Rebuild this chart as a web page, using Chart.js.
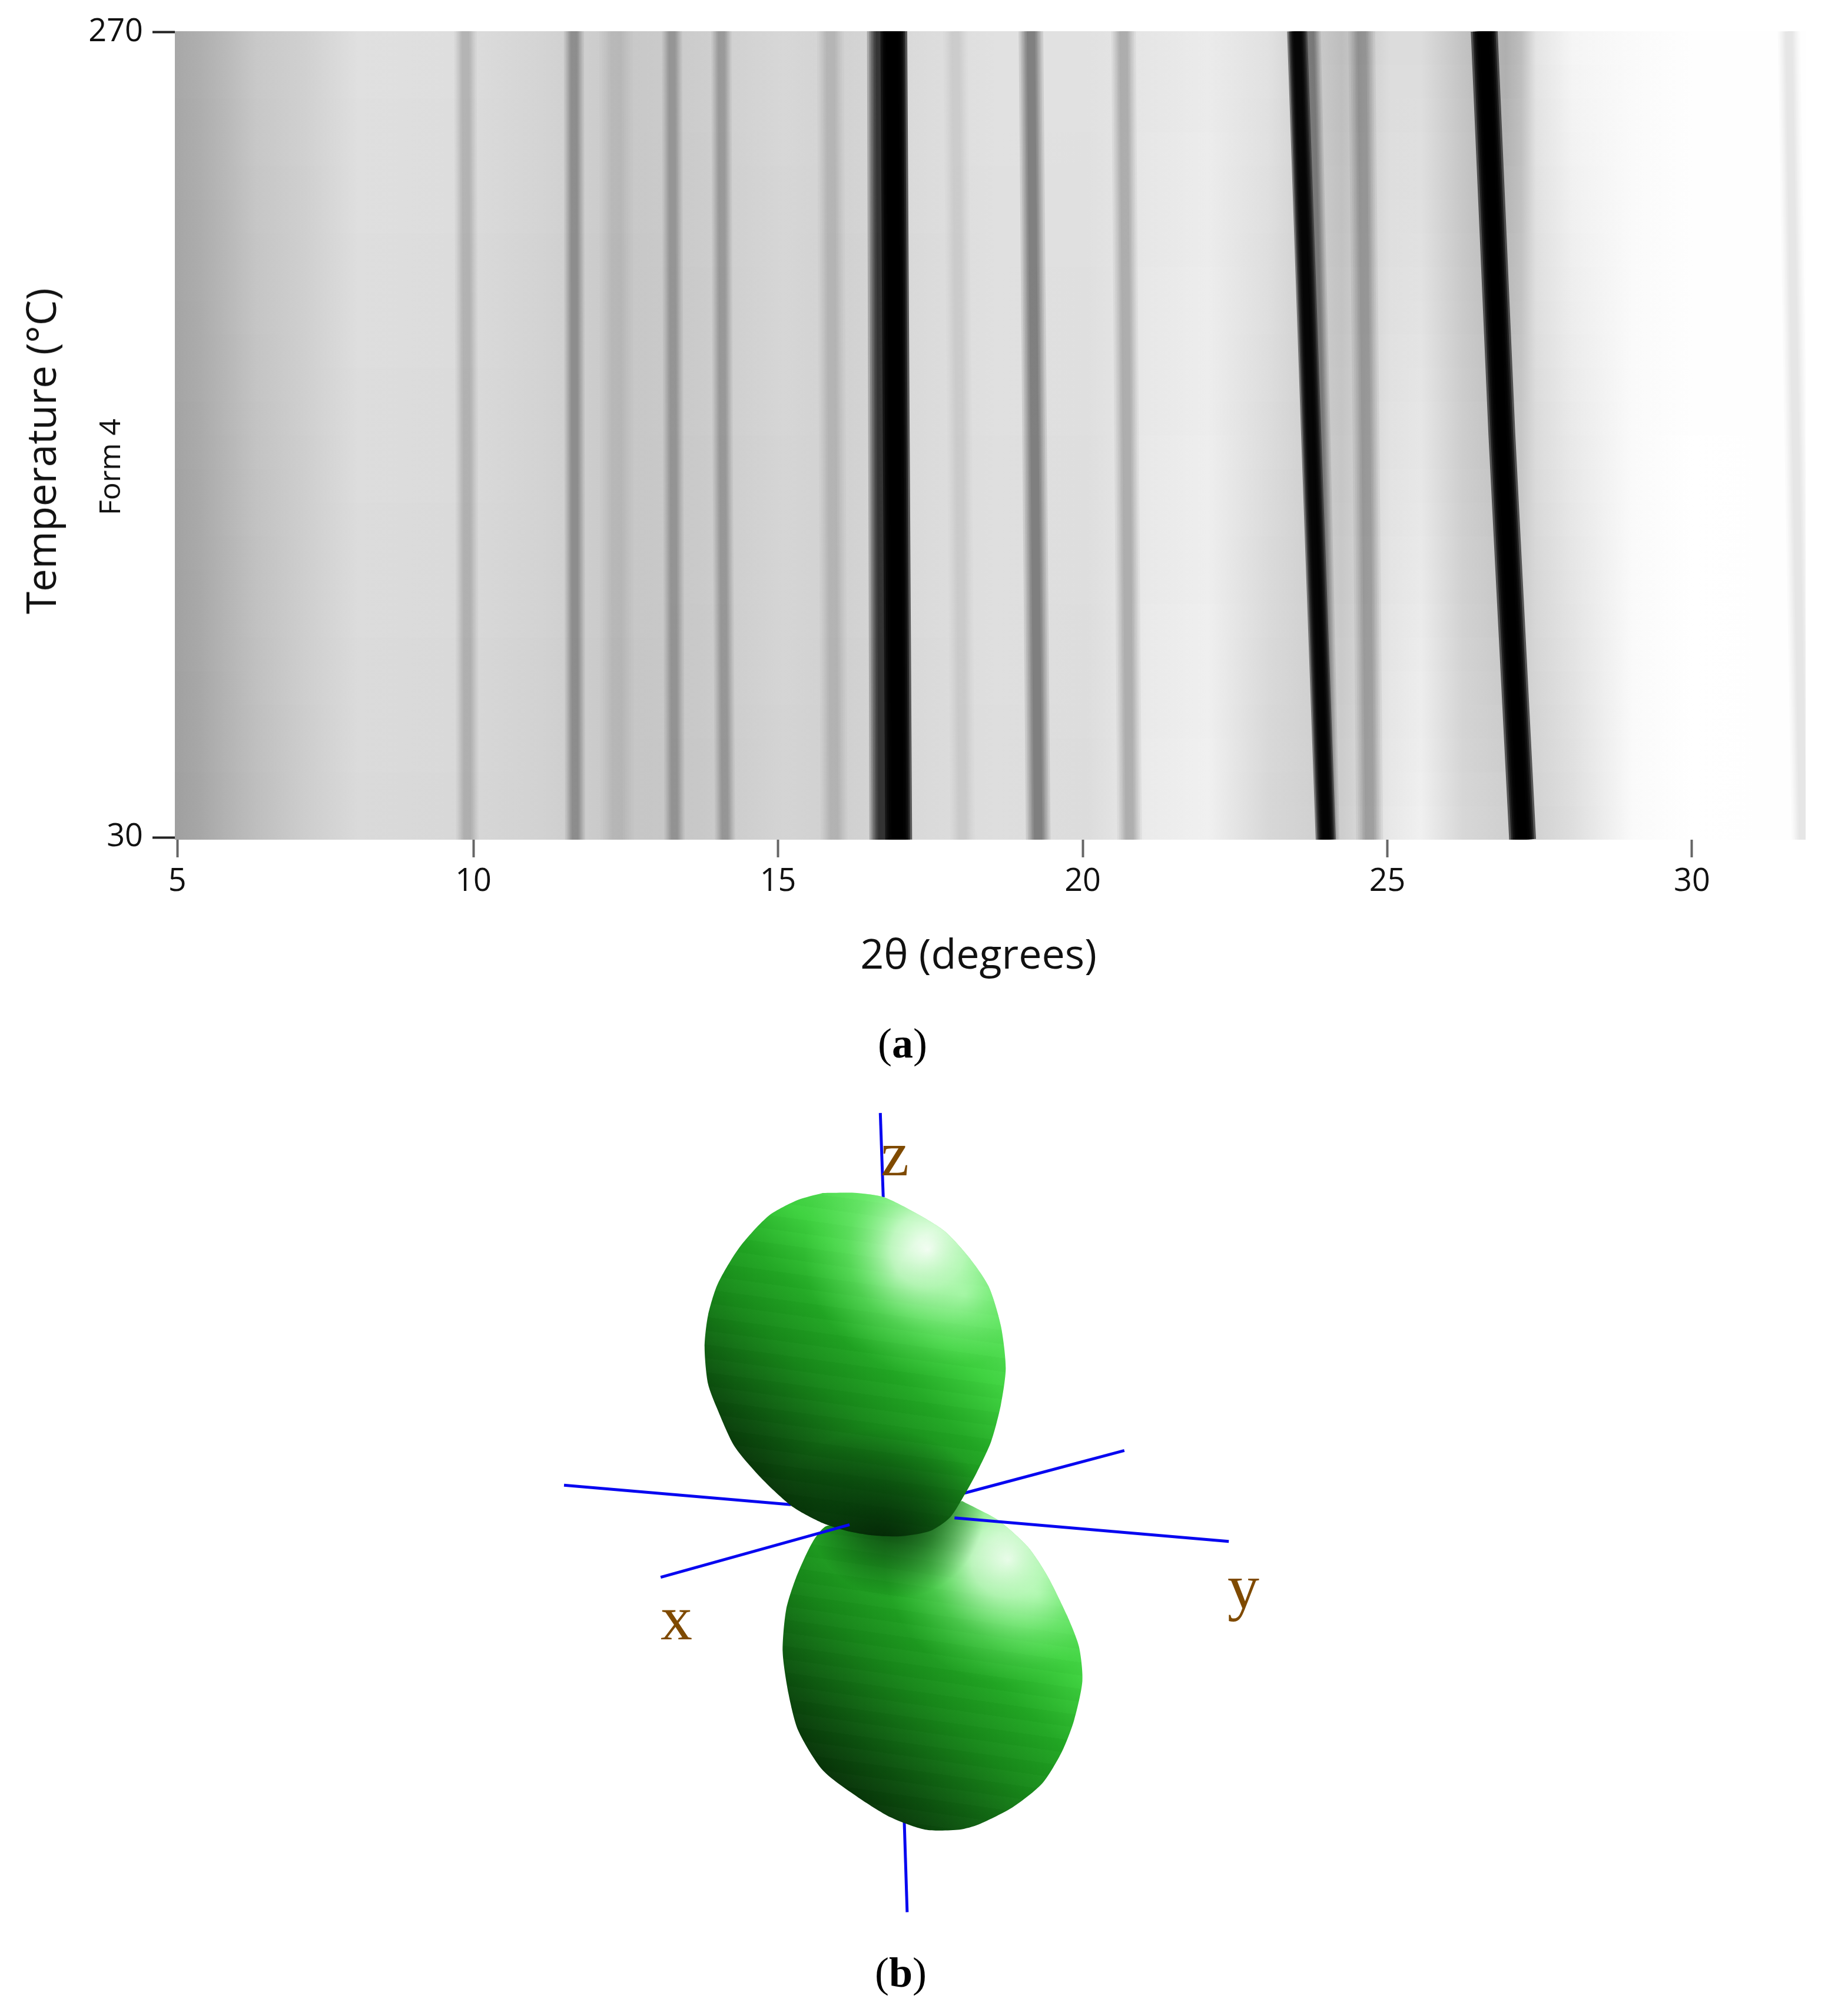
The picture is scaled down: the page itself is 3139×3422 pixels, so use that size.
<!DOCTYPE html>
<html>
<head>
<meta charset="utf-8">
<title>Form 4</title>
<script src="https://cdn.jsdelivr.net/npm/chart.js@4/dist/chart.umd.min.js"></script>
<style>
  html, body { margin: 0; background: #fff; }
  body { position: relative; width: 3139px; height: 3422px; overflow: hidden; }
  canvas { position: absolute; }
  .txt { position: absolute; white-space: nowrap; transform: translate(-50%, -50%); color: #111; font-family: "Open Sans", sans-serif; }
  .rot { transform: translate(-50%, -50%) rotate(-90deg); }
  .cap { font-family: "Liberation Serif", serif; font-size: 72px; color: #000; }
  .ax { font-family: "Liberation Serif", serif; font-size: 108px; color: #7f4a00; }
</style>
</head>
<body>
<canvas id="graficoMapa" width="3139" height="1560" style="left:0;top:0"></canvas>
<canvas id="graficoLobos" width="1300" height="1400" style="left:900px;top:1850px"></canvas>

<div class="txt rot" style="left:68px;top:766px;font-size:69px">Temperature (°C)</div>
<div class="txt rot" style="left:185px;top:793px;font-size:50px">Form 4</div>
<div class="txt" style="left:1662px;top:1618px;font-size:70px">2θ (degrees)</div>
<div class="txt cap" style="left:1533px;top:1772px">(<b>a</b>)</div>
<div class="txt cap" style="left:1530px;top:3350px">(<b>b</b>)</div>
<div class="txt ax" style="left:1520px;top:1960px">z</div>
<div class="txt ax" style="left:1149px;top:2748px">x</div>
<div class="txt ax" style="left:2112px;top:2695px">y</div>

<script>
// axis ticks, the 5 tick sits a bit inside the left edge in the picture
const xTicks = [5.14, 10, 15, 20, 25, 30];
const xTickLabels = ['5', '10', '15', '20', '25', '30'];
const yTicks = [30, 270];
const xMin = 5.1, xMax = 31.865;
const yMin = 29.3, yMax = 270.35;

// background grey of the map, read at the bottom and top rows
const bgTheta = [5.13, 5.53, 5.93, 6.43, 7.22, 8.12, 9.61, 11.11, 12.6, 13.7, 15.09, 16.09, 17.48, 18.58, 20.07, 21.07, 22.06, 23.06, 24.25, 25.05, 25.55, 26.24, 26.94, 27.2, 27.44, 28.04, 29.03, 30.03, 31.03, 32.02];
const bgTop = [168, 175, 185, 200, 208, 224, 222, 212, 200, 205, 215, 210, 220, 225, 225, 230, 235, 225, 190, 220, 220, 195, 175, 190, 228, 245, 250, 254, 254, 254];
const bgBottom = [160, 167, 178, 190, 205, 218, 216, 210, 198, 200, 212, 208, 218, 222, 220, 235, 240, 215, 205, 232, 240, 215, 208, 208, 210, 222, 250, 255, 254, 254];

// diffraction peaks: position at the three temperatures, width and darkness
const peakTemps = [yMin, 150, yMax];
const peak30 = [9.9, 11.67, 12.36, 13.3, 14.13, 15.92, 16.72, 16.98, 18.03, 19.27, 20.77, 23.99, 24.05, 24.71, 27.22, 31.82];
const peak150 = [9.89, 11.66, 12.35, 13.28, 14.09, 15.89, 16.7, 16.94, 17.98, 19.21, 20.72, 23.75, 23.9, 24.65, 26.88, 31.7];
const peak270 = [9.87, 11.65, 12.34, 13.26, 14.07, 15.86, 16.68, 16.9, 17.91, 19.15, 20.67, 23.52, 23.74, 24.58, 26.59, 31.59];
const peakWidth = [20, 18, 30, 18, 18, 24, 24, 24, 22, 22, 22, 18, 18, 24, 24, 20];
const peakDark = [0.17, 0.3, 0.07, 0.25, 0.25, 0.13, 0.75, 0.995, 0.07, 0.42, 0.23, 0.97, 0.4, 0.27, 0.995, 0.1];

// lobes outline and axis lines of panel b
const upperLobeX = [600, 670, 725, 790, 850, 900, 940, 965, 975, 965, 945, 915, 885, 860, 820, 760, 700, 650, 600, 540, 480, 420, 385, 365, 358, 365, 385, 430, 490, 550, 600];
const upperLobeY = [197, 197, 205, 235, 270, 320, 375, 450, 530, 600, 670, 730, 780, 815, 840, 850, 848, 840, 825, 795, 745, 680, 610, 560, 490, 430, 370, 300, 240, 210, 197];
const lowerLobeX = [885, 960, 1020, 1060, 1100, 1125, 1132, 1115, 1090, 1050, 990, 920, 880, 810, 740, 670, 600, 550, 530, 518, 525, 545, 580, 610, 700, 800, 885];
const lowerLobeY = [783, 820, 870, 925, 1000, 1060, 1125, 1200, 1260, 1320, 1365, 1398, 1408, 1408, 1385, 1345, 1295, 1220, 1150, 1070, 990, 930, 860, 830, 840, 840, 783];
const axisLinesBack = [
  [[70, 753], [535, 790]],
  [[890, 768], [1218, 687]],
  [[718, 45], [724, 205]],
  [[767, 1390], [773, 1565]]
];
const axisLinesFront = [
  [[870, 815], [1432, 860]],
  [[268, 928], [655, 828]]
];

// layout of the map
const plotTop = 53, plotBottom = 1426, plotRight = 3067, plotLeft = 297;
const canvasH = 1560;

function grayAt(i, mix) {
  const g = Math.round(bgBottom[i] * (1 - mix) + bgTop[i] * mix);
  return `rgb(${g},${g},${g})`;
}

function stripDataset(low, mix, index) {
  return {
    data: [{ x: xMin, y: low }, { x: xMax, y: low }],
    showLine: true,
    pointRadius: 0,
    borderWidth: 0,
    clip: 0,
    order: 1000 - index,
    fill: { value: yMax },
    backgroundColor: (c) => {
      const area = c.chart.chartArea;
      if (!area || area.right <= area.left) return '#ccc';
      const sx = c.chart.scales.x;
      const g = c.chart.ctx.createLinearGradient(area.left, 0, area.right, 0);
      bgTheta.forEach((t, i) => {
        const p = (sx.getPixelForValue(t) - area.left) / (area.right - area.left);
        g.addColorStop(Math.min(1, Math.max(0, p)), grayAt(i, mix));
      });
      return g;
    }
  };
}

const mapSets = [];

// background strips from bottom row up to the top row
const nStrips = 24;
for (let i = 0; i < nStrips; i++) {
  const low = yMin + (yMax - yMin) * i / nStrips;
  mapSets.push(stripDataset(low, i / (nStrips - 1), i));
}

// every peak is a few lines on top of each other to get the soft edge
const layerWidths = [1.9, 1.6, 1.35, 1.1, 0.9, 0.65];
peak30.forEach((p, k) => {
  const a = 1 - Math.pow(1 - peakDark[k], 1 / layerWidths.length);
  layerWidths.forEach((w) => {
    mapSets.push({
      data: [
        { x: peak30[k], y: peakTemps[0] },
        { x: peak150[k], y: peakTemps[1] },
        { x: peak270[k], y: peakTemps[2] }
      ],
      showLine: true,
      pointRadius: 0,
      clip: 0,
      order: 1,
      borderColor: `rgba(0,0,0,${a})`,
      borderWidth: peakWidth[k] * w,
      borderCapStyle: 'butt',
      fill: false
    });
  });
});

new Chart(document.getElementById('graficoMapa'), {
  type: 'scatter',
  data: { datasets: mapSets },
  options: {
    responsive: false,
    animation: false,
    devicePixelRatio: 1,
    layout: { padding: { left: 0, top: plotTop, right: 3139 - plotRight, bottom: 0 } },
    plugins: { legend: { display: false }, tooltip: { enabled: false } },
    scales: {
      x: {
        type: 'linear',
        min: xMin,
        max: xMax,
        afterBuildTicks: (s) => { s.ticks = xTicks.map((v) => ({ value: v })); },
        afterFit: (s) => { s.height = canvasH - plotBottom; },
        border: { display: false },
        grid: { drawOnChartArea: false, tickLength: 30, tickWidth: 4, tickColor: '#666' },
        ticks: {
          autoSkip: false,
          maxRotation: 0,
          padding: 9,
          color: '#111',
          font: { family: 'Open Sans', size: 54 },
          callback: (v) => xTickLabels[xTicks.indexOf(v)]
        }
      },
      y: {
        type: 'linear',
        min: yMin,
        max: yMax,
        afterBuildTicks: (s) => { s.ticks = yTicks.map((v) => ({ value: v })); },
        afterFit: (s) => { s.width = plotLeft; },
        border: { display: false },
        grid: { drawOnChartArea: false, tickLength: 38, tickWidth: 4, tickColor: '#222' },
        ticks: { autoSkip: false, padding: 16, color: '#111', font: { family: 'Open Sans', size: 54 } }
      }
    }
  }
});

// panel b
function lobeFill(x0, y0, x1, y1, stops) {
  return (c) => {
    const sc = c.chart.scales;
    if (!c.chart.chartArea || !sc.x) return '#1f9a1f';
    const g = c.chart.ctx.createLinearGradient(sc.x.getPixelForValue(x0), sc.y.getPixelForValue(y0), sc.x.getPixelForValue(x1), sc.y.getPixelForValue(y1));
    stops.forEach((s) => g.addColorStop(s[0], s[1]));
    return g;
  };
}

function lobeGlow(cx, cy, r, stops) {
  return (c) => {
    const sc = c.chart.scales;
    if (!c.chart.chartArea || !sc.x) return 'rgba(0,0,0,0)';
    const px = sc.x.getPixelForValue(cx), py = sc.y.getPixelForValue(cy);
    const g = c.chart.ctx.createRadialGradient(px, py, 0, px, py, r);
    stops.forEach((s) => g.addColorStop(s[0], s[1]));
    return g;
  };
}

function points(xs, ys) {
  return xs.map((x, i) => ({ x: x, y: ys[i] }));
}

function lobeSet(xs, ys, bg, order) {
  return {
    data: points(xs, ys),
    showLine: true,
    tension: 0.25,
    pointRadius: 0,
    borderWidth: 0,
    fill: 'shape',
    backgroundColor: bg,
    order: order
  };
}

function lineSet(seg, order) {
  return {
    data: seg.map((p) => ({ x: p[0], y: p[1] })),
    showLine: true,
    pointRadius: 0,
    borderColor: '#0808f0',
    borderWidth: 5,
    fill: false,
    order: order
  };
}

const greenStops = [
  [0, '#041f04'],
  [0.22, '#0c4f0e'],
  [0.45, '#18881a'],
  [0.62, '#22a824'],
  [0.8, '#3ed23f'],
  [1, '#5fe860']
];
const whiteGlow = [
  [0, 'rgba(255,255,255,1)'],
  [0.3, 'rgba(225,255,225,0.75)'],
  [0.65, 'rgba(140,240,140,0.3)'],
  [1, 'rgba(100,230,100,0)']
];
const softGlow = [
  [0, 'rgba(190,255,190,0.5)'],
  [1, 'rgba(100,230,100,0)']
];
const darkShade = [
  [0, 'rgba(2,28,4,0.9)'],
  [0.5, 'rgba(4,50,8,0.55)'],
  [1, 'rgba(4,50,8,0)']
];

// thin facet bands across a lobe
const bandStops = [];
const nBands = 26;
for (let i = 0; i < nBands; i++) {
  const col = i % 2 ? 'rgba(0,40,0,0.022)' : 'rgba(255,255,255,0.012)';
  bandStops.push([i / nBands, col], [(i + 1) / nBands, col]);
}

const loboSets = [];
axisLinesBack.forEach((s) => loboSets.push(lineSet(s, 50)));
loboSets.push(lobeSet(lowerLobeX, lowerLobeY, lobeFill(590, 1370, 1070, 890, greenStops), 40));
loboSets.push(lobeSet(lowerLobeX, lowerLobeY, lobeFill(880, 780, 780, 1420, bandStops), 39));
loboSets.push(lobeSet(lowerLobeX, lowerLobeY, lobeGlow(980, 895, 210, whiteGlow), 38));
loboSets.push(lobeSet(lowerLobeX, lowerLobeY, lobeGlow(1040, 960, 120, softGlow), 37));
loboSets.push(lobeSet(lowerLobeX, lowerLobeY, lobeGlow(750, 800, 150, darkShade), 36));
loboSets.push(lobeSet(upperLobeX, upperLobeY, lobeFill(440, 800, 880, 340, greenStops), 30));
loboSets.push(lobeSet(upperLobeX, upperLobeY, lobeFill(720, 190, 620, 860, bandStops), 29));
loboSets.push(lobeSet(upperLobeX, upperLobeY, lobeGlow(815, 305, 210, whiteGlow), 28));
loboSets.push(lobeSet(upperLobeX, upperLobeY, lobeGlow(890, 390, 120, softGlow), 27));
loboSets.push(lobeSet(upperLobeX, upperLobeY, lobeGlow(720, 880, 210, darkShade), 26));
axisLinesFront.forEach((s) => loboSets.push(lineSet(s, 10)));

new Chart(document.getElementById('graficoLobos'), {
  type: 'scatter',
  data: { datasets: loboSets },
  options: {
    responsive: false,
    animation: false,
    devicePixelRatio: 1,
    layout: { padding: 0 },
    plugins: { legend: { display: false }, tooltip: { enabled: false } },
    scales: {
      x: { type: 'linear', min: 0, max: 1568, display: false },
      y: { type: 'linear', min: 0, max: 1568, reverse: true, display: false }
    }
  }
});
</script>
</body>
</html>
